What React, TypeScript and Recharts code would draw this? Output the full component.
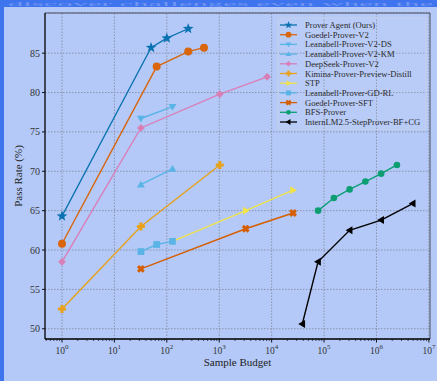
import React from 'react';
import { LineChart, Line, XAxis, YAxis, CartesianGrid, ReferenceLine, Legend, Label } from 'recharts';

// budgets (samples) and pass rates (%)
const proverAgentBudget = [1, 50, 100, 256];
const proverAgentRate = [64.3, 85.7, 86.9, 88.1];
const goedelV2Budget = [1, 64, 256, 512];
const goedelV2Rate = [60.8, 83.3, 85.2, 85.7];
const leanabellDsBudget = [32, 128];
const leanabellDsRate = [76.7, 78.2];
const leanabellKmBudget = [32, 128];
const leanabellKmRate = [68.3, 70.3];
const deepSeekBudget = [1, 32, 1024, 8192];
const deepSeekRate = [58.5, 75.5, 79.8, 82.0];
const kiminaBudget = [1, 32, 1024];
const kiminaRate = [52.5, 63.0, 70.8];
const stpBudget = [128, 3200, 25600];
const stpRate = [61.1, 65.0, 67.6];
const gdRlBudget = [32, 64, 128];
const gdRlRate = [59.8, 60.7, 61.1];
const goedelSftBudget = [32, 3200, 25600];
const goedelSftRate = [57.6, 62.7, 64.7];
const bfsBudget = [76800, 153600, 307200, 614400, 1228800, 2457600];
const bfsRate = [65.0, 66.6, 67.7, 68.7, 69.7, 70.8];
const internLmBudget = [38400, 76800, 307200, 1228800, 4915200];
const internLmRate = [50.6, 58.5, 62.5, 63.8, 65.9];

const yTicks = [50, 55, 60, 65, 70, 75, 80, 85];
const majorTicks = [1, 10, 100, 1e3, 1e4, 1e5, 1e6, 1e7];
const minorTicks: number[] = [];
for (let k = -1; k <= 6; k++) {
  for (let m = 2; m <= 9; m++) {
    const v = m * Math.pow(10, k);
    if (v > 0.474 && v < 1.05e7) minorTicks.push(v);
  }
}
const allXTicks = [...majorTicks, ...minorTicks].sort((a, b) => a - b);

const toPoints = (budget: number[], rate: number[]) => budget.map((x, i) => ({ x, y: rate[i] }));

const series = [
  { name: 'Prover Agent (Ours)', data: toPoints(proverAgentBudget, proverAgentRate), color: '#0a72b0', shape: 'star', r: 5.6, w: 1.3 },
  { name: 'Goedel-Prover-V2', data: toPoints(goedelV2Budget, goedelV2Rate), color: '#d9650d', shape: 'circle', r: 4, w: 1.4 },
  { name: 'Leanabell-Prover-V2-DS', data: toPoints(leanabellDsBudget, leanabellDsRate), color: '#5ab4e6', shape: 'down', r: 4, w: 1.4 },
  { name: 'Leanabell-Prover-V2-KM', data: toPoints(leanabellKmBudget, leanabellKmRate), color: '#5ab4e6', shape: 'up', r: 4, w: 1.4 },
  { name: 'DeepSeek-Prover-V2', data: toPoints(deepSeekBudget, deepSeekRate), color: '#d97fb8', shape: 'diamond', r: 3.9, w: 1.4 },
  { name: 'Kimina-Prover-Preview-Distill', data: toPoints(kiminaBudget, kiminaRate), color: '#e8a21a', shape: 'plus', r: 4, w: 1.4 },
  { name: 'STP', data: toPoints(stpBudget, stpRate), color: '#f0e24a', shape: 'right', r: 4, w: 1.4 },
  { name: 'Leanabell-Prover-GD-RL', data: toPoints(gdRlBudget, gdRlRate), color: '#5ab4e6', shape: 'square', r: 3.4, w: 1.4 },
  { name: 'Goedel-Prover-SFT', data: toPoints(goedelSftBudget, goedelSftRate), color: '#d55e00', shape: 'x', r: 4, w: 1.4 },
  { name: 'BFS-Prover', data: toPoints(bfsBudget, bfsRate), color: '#0d9e74', shape: 'circle', r: 3.3, w: 1.4 },
  { name: 'InternLM2.5-StepProver-BF+CG', data: toPoints(internLmBudget, internLmRate), color: '#000000', shape: 'left', r: 4, w: 1.4 },
];

const FONT = '"Liberation Serif", "DejaVu Serif", serif';

function Marker({ shape, cx, cy, r, color }: { shape: string; cx: number; cy: number; r: number; color: string }) {
  const pts = (arr: number[][]) => arr.map(([a, b]) => `${cx + a},${cy + b}`).join(' ');
  switch (shape) {
    case 'star': {
      const p: number[][] = [];
      for (let i = 0; i < 10; i++) {
        const ang = (-90 + i * 36) * (Math.PI / 180);
        const rad = i % 2 ? r * 0.42 : r;
        p.push([rad * Math.cos(ang), rad * Math.sin(ang)]);
      }
      return <polygon points={pts(p)} fill={color} />;
    }
    case 'circle':
      return <circle cx={cx} cy={cy} r={r} fill={color} />;
    case 'down':
      return <polygon points={pts([[-r, -r * 0.7], [r, -r * 0.7], [0, r]])} fill={color} />;
    case 'up':
      return <polygon points={pts([[-r, r * 0.7], [r, r * 0.7], [0, -r]])} fill={color} />;
    case 'left':
      return <polygon points={pts([[-r, 0], [r * 0.7, -r], [r * 0.7, r]])} fill={color} />;
    case 'right':
      return <polygon points={pts([[r, 0], [-r * 0.7, -r], [-r * 0.7, r]])} fill={color} />;
    case 'diamond':
      return <polygon points={pts([[0, -r], [r, 0], [0, r], [-r, 0]])} fill={color} />;
    case 'square':
      return <rect x={cx - r} y={cy - r} width={2 * r} height={2 * r} fill={color} />;
    case 'plus':
    case 'x': {
      const a = r * 0.38;
      const p = [[-a, -r], [a, -r], [a, -a], [r, -a], [r, a], [a, a], [a, r], [-a, r], [-a, a], [-r, a], [-r, -a], [-a, -a]];
      return (
        <polygon
          points={pts(p)}
          fill={color}
          transform={shape === 'x' ? `rotate(45 ${cx} ${cy})` : undefined}
        />
      );
    }
    default:
      return null;
  }
}

const XTick = (props: any) => {
  const { x, y, payload } = props;
  const v = payload.value;
  const exp = Math.round(Math.log10(v));
  const major = Math.abs(Math.log10(v) - exp) < 1e-6;
  return (
    <g>
      <line x1={x} x2={x} y1={y} y2={y + (major ? 3.5 : 2)} stroke="#111" strokeWidth={major ? 1 : 0.7} />
      {major && (
        <text x={x} y={y + 15} textAnchor="middle" fontFamily={FONT} fontSize={9.5} fill="#333">
          10
          <tspan dy={-5} fontSize={7}>{exp}</tspan>
        </text>
      )}
    </g>
  );
};

const LegendBox = () => (
  <svg width={150} height={113} style={{ display: 'block' }}>
    <rect x={0.5} y={0.5} width={149} height={112} rx={2.5} fill="rgba(255,255,255,0.07)" stroke="#c2cde6" strokeWidth={1} />
    {series.map((s, i) => {
      const cy = 8 + i * 9.7;
      return (
        <g key={s.name}>
          <line x1={3} x2={20} y1={cy} y2={cy} stroke={s.color} strokeWidth={1.3} />
          <Marker shape={s.shape} cx={11.5} cy={cy} r={s.r * 0.72} color={s.color} />
          <text x={28} y={cy} dominantBaseline="central" fontFamily={FONT} fontSize={8.6} fill="#2a2a2a">
            {s.name}
          </text>
        </g>
      );
    })}
  </svg>
);

export default function App() {
  return (
    <div style={{ position: 'fixed', left: 0, top: 0, width: 437, height: 381, background: '#b4c9f8', overflow: 'hidden' }}>
      <svg width={437} height={7} style={{ position: 'absolute', left: 0, top: 0, display: 'block' }}>
        <rect x={0} y={0} width={437} height={7} fill="#3f74ef" />
        <text x={8} y={5.8} fontFamily={FONT} fontSize={7} fill="#7196f1" textLength={425} lengthAdjust="spacingAndGlyphs">
          discover challenges even when the
        </text>
      </svg>
      <div style={{ position: 'absolute', left: 0, top: 0, width: 3.5, height: 381, background: '#3f74ef' }} />
      <div style={{ position: 'absolute', left: 0, top: 0 }}>
        <LineChart width={437} height={381} margin={{ top: 13, right: 7, bottom: 12, left: 0 }}>
          <CartesianGrid vertical={false} stroke="#80879a" strokeDasharray="1.5 1.5" strokeWidth={0.8} />
          {majorTicks.map((t) => (
            <ReferenceLine key={t} x={t} stroke="#80879a" strokeDasharray="1.5 1.5" strokeWidth={0.8} />
          ))}
          <ReferenceLine y={90.1} stroke="#4a4f5c" strokeWidth={1} />
          <ReferenceLine x={1.05e7} stroke="#4a4f5c" strokeWidth={1} />
          <XAxis
            dataKey="x"
            type="number"
            scale="log"
            domain={[0.474, 1.05e7]}
            allowDataOverflow
            ticks={allXTicks}
            interval={0}
            tick={<XTick />}
            tickLine={false}
            tickSize={0}
            tickMargin={0}
            height={30}
            axisLine={{ stroke: '#000', strokeWidth: 1.3 }}
          >
            <Label value="Sample Budget" position="insideBottom" offset={3} style={{ fontFamily: FONT, fontSize: 11, fill: '#222' }} />
          </XAxis>
          <YAxis
            type="number"
            domain={[48.7, 90.1]}
            allowDataOverflow
            ticks={yTicks}
            interval={0}
            width={45}
            tickSize={3}
            tickMargin={2}
            tick={{ fontFamily: FONT, fontSize: 10, fill: '#333' }}
            tickLine={{ stroke: '#111' }}
            axisLine={{ stroke: '#000', strokeWidth: 1.3 }}
          >
            <Label
              value="Pass Rate (%)"
              angle={-90}
              position="insideLeft"
              offset={18}
              style={{ fontFamily: FONT, fontSize: 11, fill: '#222', textAnchor: 'middle' }}
            />
          </YAxis>
          {series.map((s) => (
            <Line
              key={s.name}
              data={s.data}
              dataKey="y"
              name={s.name}
              stroke={s.color}
              strokeWidth={s.w}
              isAnimationActive={false}
              activeDot={false}
              dot={(p: any) => (
                <Marker key={`${s.name}-${p.index}`} shape={s.shape} cx={p.cx} cy={p.cy} r={s.r} color={s.color} />
              )}
            />
          ))}
          <Legend
            layout="vertical"
            align="center"
            verticalAlign="middle"
            content={() => <LegendBox />}
            wrapperStyle={{ left: 277, top: 17, width: 150, height: 113 }}
          />
        </LineChart>
      </div>
    </div>
  );
}
